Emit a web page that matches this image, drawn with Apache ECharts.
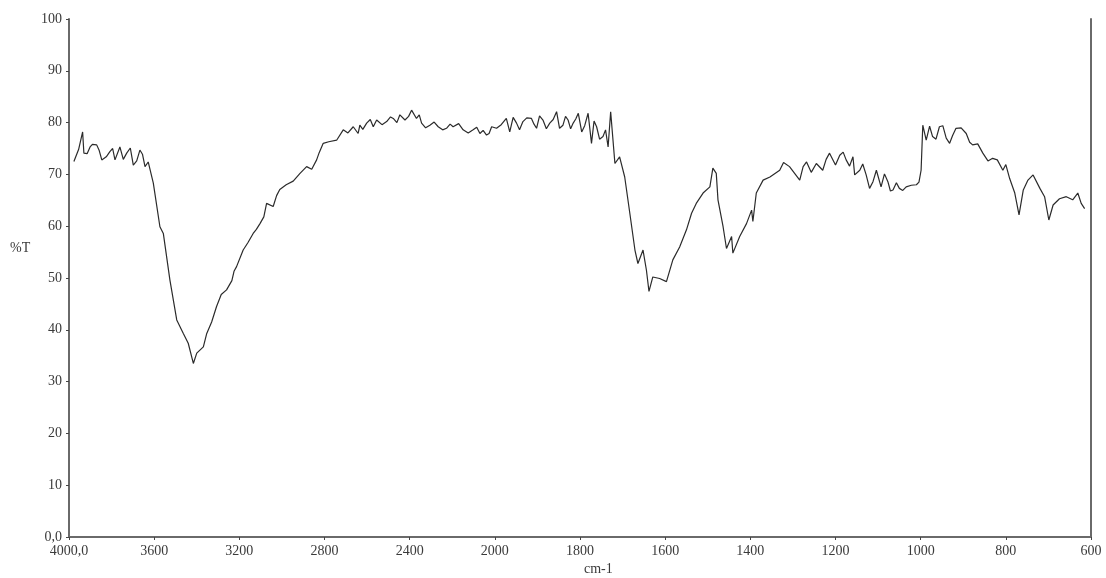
<!DOCTYPE html>
<html>
<head>
<meta charset="utf-8">
<script src="https://cdn.jsdelivr.net/npm/echarts@6/dist/echarts.min.js"></script>
<style>
html,body{margin:0;padding:0;background:#fff;}
#chart{width:1106px;height:578px;}
</style>
</head>
<body>
<div id="chart"></div>
<script>
// Wavenumbers (cm-1) and transmittance (%T)
const wavenumbers = [3977,3936,3930,3901,3870,3846,3808,3784,3761,3729,3698,3667,3643,3628,3604,3573,3557,3526,3494,3463,3440,3416,3400,3369,3353,3307,3260,3213,3182,3135,3103,3072,3041,3010,2947,2884,2837,2806,2743,2712,2665,2642,2634,2602,2571,2555,2508,2477,2446,2422,2391,2368,2344,2305,2266,2227,2196,2149,2102,2070,2039,2015,
1996,1973,1965,1949,1934,1914,1902,1887,1871,1855,1840,1828,1816,1804,1796,1781,1773,1761,1746,1734,1728,1718,1707,1695,1683,1671,1664,1652,1644,1638,1629,1613,1597,1582,1566,1550,1538,1527,1511,1495,1488,1480,1476,1464,1456,1444,1441,1425,1409,1397,1394,1386,1370,1354,1331,1308,1284,1268,1245,1230,1214,1190,1175,1159,1155,1143,1128,1120,1104,1093,1077,1065,1050,1034,1010,999,995,987,972,956,940,932,917,893,878,854,831,807,791,779,769,759,748,736,720,709,699,689,674,658,643,631,623,615,
3955,3915,3890,3858,3825,3795,3745,3712,3682,3655,3330,3285,3235,3225,3160,3120,3085,3025,2980,2915,2860,2825,2780,2690,
2620,2585,2530,2490,2460,2405,2355,2325,2285,2245,2210,2170,2125,2085,2055,2027,
1985,1957,1942,1925,1908,1895,1879,1863,1848,1834,1822,1810,1789,1767,1754,1740,
1322,1296,1276,1257,1222,1200,1182,1167,1136,1112,1085,1071,1057,1042,1022,1004,
979,964,948,925,905,885,866,842,820,800];
const transmittance = [72.5,78.2,74.1,75.3,75.7,72.8,74.4,72.8,75.3,74.1,71.8,74.7,71.5,72.4,68.3,59.9,58.6,49.6,41.9,39.3,37.4,33.5,35.5,36.7,39.3,44.5,47.7,52.2,55.4,58.6,60.5,64.4,63.8,67.1,68.7,71.5,72.8,76.0,76.6,78.6,79.2,77.9,79.5,79.9,79.2,80.5,80.2,80.8,81.5,80.5,82.4,80.8,79.9,79.5,79.2,78.9,79.2,78.6,78.6,77.9,77.6,79.2,
78.9,80.8,78.2,79.9,80.2,80.8,78.9,80.5,79.9,82.1,79.5,80.5,79.9,81.8,78.2,81.8,76.0,79.2,77.3,75.3,82.1,72.1,73.4,69.5,62.5,55.4,52.8,55.4,51.5,47.4,50.2,49.9,49.3,53.5,56.0,59.3,62.5,64.4,66.4,67.6,71.2,70.2,65.1,59.9,55.7,58.0,54.8,58.0,60.5,63.1,60.9,66.4,68.9,69.5,70.8,71.5,68.9,72.4,72.1,70.8,74.1,73.7,72.8,73.4,69.9,70.8,69.9,67.3,70.8,67.6,68.6,67.0,67.3,67.6,68.0,70.8,79.5,76.6,77.3,79.2,77.0,76.0,78.9,77.9,75.7,74.1,73.1,70.8,69.2,66.4,62.2,67.0,68.9,69.9,67.3,65.7,61.2,64.1,65.3,65.7,65.1,66.4,64.4,63.4,
74.8,74.0,75.8,74.6,73.4,75.0,72.9,75.1,72.6,73.9,41.5,46.8,49.5,51.3,56.8,59.4,61.8,65.9,68.0,70.2,71.0,74.2,76.3,78.0,
78.7,80.6,79.6,81.1,80.0,81.2,81.5,79.0,80.1,78.6,79.7,79.8,78.0,79.1,78.5,77.9,
79.6,81.0,78.6,80.9,79.7,81.3,78.8,80.6,78.9,81.2,78.8,80.7,79.4,80.3,76.8,78.6,
72.3,70.2,71.5,70.4,72.9,71.8,74.3,71.6,72.0,68.6,70.1,66.8,68.4,66.9,67.9,68.5,
79.3,76.8,79.4,77.5,79.0,76.2,75.9,72.6,72.8,71.9];
const xTickLabels = ['4000,0','3600','3200','2800','2400','2000','1800','1600','1400','1200','1000','800','600'];

// Scale change at 2000 cm-1: 400 cm-1 per division above, 200 cm-1 per division below
function toPos(w){ return w >= 2000 ? (4000 - w)/400 : 5 + (2000 - w)/200; }
const seriesData = wavenumbers.map((w,i)=>[w, transmittance[i]])
  .sort((a,b)=>b[0]-a[0])
  .map(d=>[toPos(d[0]), d[1]]);

const font = '"Liberation Serif","Times New Roman",serif';
const chart = echarts.init(document.getElementById('chart'));
chart.setOption({
  animation:false,
  backgroundColor:'#fff',
  grid:{left:69,right:15,top:19,bottom:41},
  xAxis:{
    type:'value',min:0,max:12,interval:1,
    axisLine:{show:true,lineStyle:{color:'#6a6a6a',width:2}},
    axisTick:{show:true,length:3,lineStyle:{color:'#444'}},
    splitLine:{show:false},
    axisLabel:{color:'#3a3a3a',fontFamily:font,fontSize:14,margin:7,
      formatter:v=>xTickLabels[Math.round(v)]}
  },
  yAxis:[{
    type:'value',min:0,max:100,interval:10,
    axisLine:{show:true,lineStyle:{color:'#6a6a6a',width:2}},
    axisTick:{show:true,length:3,lineStyle:{color:'#444'}},
    splitLine:{show:false},
    axisLabel:{color:'#3a3a3a',fontFamily:font,fontSize:14,margin:7,
      formatter:v=>v===0?'0,0':String(v)}
  },{
    type:'value',min:0,max:100,interval:10,position:'right',
    axisLine:{show:true,lineStyle:{color:'#6a6a6a',width:2}},
    axisTick:{show:false},axisLabel:{show:false},splitLine:{show:false}
  }],
  graphic:[
    {type:'text',left:10,top:241,style:{text:'%T',font:'14px '+font,fill:'#3a3a3a'}},
    {type:'text',left:584,top:562,style:{text:'cm-1',font:'14px '+font,fill:'#3a3a3a'}}
  ],
  series:[{
    type:'line',data:seriesData,showSymbol:false,
    lineStyle:{color:'#2b2b2b',width:1.2},
    yAxisIndex:0
  }]
});
</script>
</body>
</html>
